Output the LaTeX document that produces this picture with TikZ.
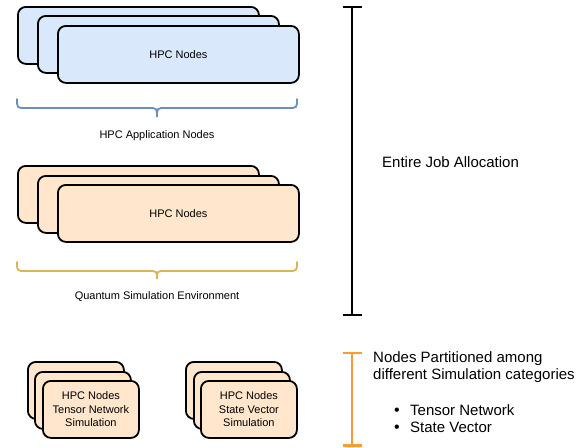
\documentclass[tikz,border=0pt]{standalone}
\usepackage{fontspec}
\setmainfont{Liberation Sans}
\definecolor{bluefill}{HTML}{DAE8FC}
\definecolor{orangefill}{HTML}{FFE6CC}
\definecolor{bracegold}{HTML}{D6B656}
\definecolor{braceblue}{HTML}{6C8EBF}
\definecolor{barorange}{HTML}{FF9933}
\begin{document}
\begin{tikzpicture}[x=1pt,y=-1pt,
  nodebox/.style={draw=black, line width=1.8pt, rounded corners=8pt, anchor=north west,
    inner sep=0pt, font=\fontsize{11}{13.5}\selectfont, align=center},
  bigbox/.style={nodebox, minimum width=241pt, minimum height=57pt},
  smallbox/.style={nodebox, minimum width=96pt, minimum height=57pt},
  bracepath/.style={line width=1.8pt, line cap=round},
  lbl/.style={font=\fontsize{11}{13}\selectfont},
  biglbl/.style={font=\fontsize{15}{17}\selectfont, anchor=west, align=left, inner sep=0pt},
  itemlbl/.style={font=\fontsize{15}{17}\selectfont, anchor=base west, inner sep=0pt},
  dotlbl/.style={font=\fontsize{16}{18}\selectfont, anchor=base, inner sep=0pt},
  barline/.style={line width=2.2pt}]
\useasboundingbox (0,0) rectangle (585,447);

% blue stack
\node[bigbox, fill=bluefill] (b1) at (17,6) {};
\node[bigbox, fill=bluefill] (b2) at (37,15) {};
\node[bigbox, fill=bluefill] (b3) at (57,25) {HPC Nodes};
\draw[bracepath, braceblue] (17,99) .. controls (17,108) .. (26,108) -- (148,108)
  .. controls (157,108) .. (157,117) .. controls (157,108) .. (166,108) -- (288,108)
  .. controls (297,108) .. (297,99);
\node[lbl] (bl) at (157,136) {HPC Application Nodes};

% orange stack
\node[bigbox, fill=orangefill] (o1) at (17,165) {};
\node[bigbox, fill=orangefill] (o2) at (37,175) {};
\node[bigbox, fill=orangefill] (o3) at (57,184) {HPC Nodes};
\draw[bracepath, bracegold] (17,262) .. controls (17,271) .. (26,271) -- (148,271)
  .. controls (157,271) .. (157,279) .. controls (157,271) .. (166,271) -- (288,271)
  .. controls (297,271) .. (297,262);
\node[lbl] (ql) at (157,297) {Quantum Simulation Environment};

% bottom stacks
\node[smallbox, fill=orangefill] (t1) at (27,361) {};
\node[smallbox, fill=orangefill] (t2) at (34,371) {};
\node[smallbox, fill=orangefill] (t3) at (42,380) {HPC Nodes\\Tensor Network\\Simulation};
\node[smallbox, fill=orangefill] (s1) at (185,361) {};
\node[smallbox, fill=orangefill] (s2) at (193,371) {};
\node[smallbox, fill=orangefill] (s3) at (200,380) {HPC Nodes\\State Vector\\Simulation};

% black bar
\coordinate (jt) at (352,7);
\coordinate (jb) at (352,315);
\draw[barline] (jt) -- (jb);
\draw[barline] ([xshift=-9.5pt]jt) -- ([xshift=9.5pt]jt);
\draw[barline] ([xshift=-9.5pt]jb) -- ([xshift=9.5pt]jb);
\node[biglbl] (jl) at (382,162) {Entire Job Allocation};

% orange bar
\coordinate (pt) at (352,353);
\coordinate (pb) at (352,445.5);
\draw[barline, barorange] (pt) -- (pb);
\draw[barline, barorange] ([xshift=-9.5pt]pt) -- ([xshift=9.5pt]pt);
\draw[barline, barorange] ([xshift=-9.5pt]pb) -- ([xshift=9.5pt]pb);
\node[biglbl] (pl) at (373,367.5) {Nodes Partitioned among\\different Simulation categories};
\node[dotlbl] (d1) at (397,415) {•};
\node[itemlbl] (i1) at (410,415) {Tensor Network};
\node[dotlbl] (d2) at (397,432) {•};
\node[itemlbl] (i2) at (410,432) {State Vector};
\end{tikzpicture}
\end{document}
